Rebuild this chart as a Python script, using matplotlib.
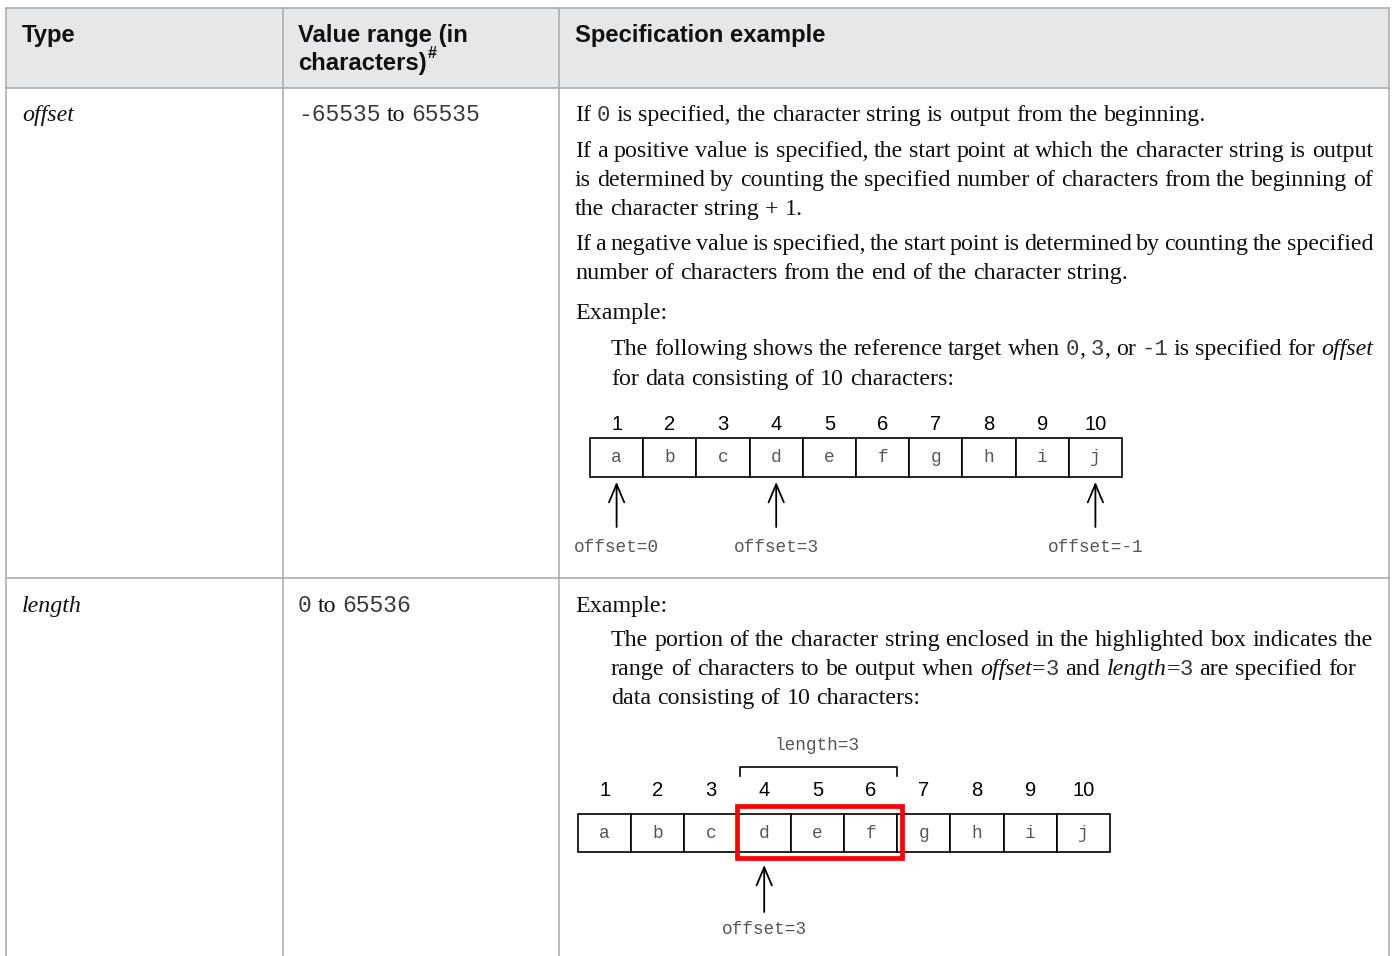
import matplotlib
matplotlib.use("Agg")
import matplotlib.pyplot as plt
from matplotlib.patches import Rectangle

# ── Data ────────────────────────────────────────────────────────────────────
COL_HEADERS = ["Type", "Value range (in\ncharacters)", "Specification example"]
TYPES = ["offset", "length"]
RANGES = [[("-65535", "m"), (" to ", "r"), ("65535", "m")],
          [("0", "m"), (" to ", "r"), ("65536", "m")]]

CELL_LETTERS = ["a", "b", "c", "d", "e", "f", "g", "h", "i", "j"]
CELL_NUMBERS = [1, 2, 3, 4, 5, 6, 7, 8, 9, 10]
OFFSET_EXAMPLES = [0, 3, -1]
HIGHLIGHT_OFFSET = 3
HIGHLIGHT_LENGTH = 3

# (baseline y, left x, justify-to x or None, runs)
OFFSET_TEXT = [
    (121, 575, None, [("If ", "r"), ("0", "m"), (" is specified, the character string is output from the beginning.", "r")]),
    (157, 575, 1373, [("If a positive value is specified, the start point at which the character string is output", "r")]),
    (186, 575, 1373, [("is determined by counting the specified number of characters from the beginning of", "r")]),
    (215, 575, None, [("the character string + 1.", "r")]),
    (250, 575, 1373, [("If a negative value is specified, the start point is determined by counting the specified", "r")]),
    (279, 575, None, [("number of characters from the end of the character string.", "r")]),
    (319, 575, None, [("Example:", "r")]),
    (355, 611, 1373, [("The following shows the reference target when ", "r"), ("0", "m"), (", ", "r"), ("3", "m"),
                      (", or ", "r"), ("-1", "m"), (" is specified for ", "r"), ("offset", "i")]),
    (385, 611, None, [("for data consisting of 10 characters:", "r")]),
]
LENGTH_TEXT = [
    (612, 575, None, [("Example:", "r")]),
    (646, 611, 1373, [("The portion of the character string enclosed in the highlighted box indicates the", "r")]),
    (675, 611, 1356, [("range of characters to be output when ", "r"), ("offset", "i"), ("=", "r"), ("3", "m"),
                      (" and ", "r"), ("length", "i"), ("=", "r"), ("3", "m"), (" are specified for", "r")]),
    (704, 611, None, [("data consisting of 10 characters:", "r")]),
]

# ── Styles ──────────────────────────────────────────────────────────────────
W, H = 1395, 956
FS = 17.3
FS_MONO = 16.0
STYLES = {
    "r": dict(family="Liberation Serif", color="#111111"),
    "i": dict(family="Liberation Serif", style="italic", color="#111111"),
    "m": dict(family="Liberation Mono", color="#3a3a3a"),
}
SIZES = {"r": FS, "i": FS, "m": FS_MONO}
HEAD = dict(family="Liberation Sans", weight="bold", size=17.2, color="#111111")
GRID = "#a8a8a8"
HEADER_BG = "#e6e7e8"
DIAG_MONO = dict(family="Liberation Mono", size=12.8, color="#555555")
DIAG_NUM = dict(family="Liberation Sans", size=14.5, color="black")

fig = plt.figure(figsize=(W / 100, H / 100), dpi=100)
ax = fig.add_axes([0, 0, 1, 1])
ax.set_xlim(0, W)
ax.set_ylim(H, 0)
ax.axis("off")
renderer = fig.canvas.get_renderer()


def width_of(t):
    return t.get_window_extent(renderer).width


def space_width(scale=1.0):
    a = ax.text(0, 0, "n n", size=FS * scale, **STYLES["r"])
    b = ax.text(0, 0, "nn", size=FS * scale, **STYLES["r"])
    w = width_of(a) - width_of(b)
    a.remove()
    b.remove()
    return w


def words_of(runs):
    words = [[]]
    for txt, kind in runs:
        parts = txt.split(" ")
        for k, p in enumerate(parts):
            if k > 0:
                words.append([])
            if p:
                words[-1].append((p, kind))
    return [w for w in words if w]


def draw_line(y, x0, right, runs, scale=1.0, mono_size=None):
    words = words_of(runs)
    space = space_width(scale)
    sizes = dict(SIZES)
    if mono_size:
        sizes["m"] = mono_size
    placed = []
    total = 0
    for w in words:
        items = []
        ww = 0
        for txt, kind in w:
            t = ax.text(0, y, txt, va="baseline", ha="left", size=sizes[kind] * scale, **STYLES[kind])
            items.append((t, ww))
            ww += width_of(t)
        placed.append((items, ww))
        total += ww
    gap = space
    if right is not None and len(words) > 1:
        gap = (right - x0 - total) / (len(words) - 1)
        if gap < 0.55 * space:
            # too long for the cell: shrink this line a little and retry
            for items, _ in placed:
                for t, _ in items:
                    t.remove()
            return draw_line(y, x0, right, runs, scale * 0.985, mono_size)
    x = x0
    for items, ww in placed:
        for t, off in items:
            t.set_x(x + off)
        x += ww + gap


# ── Table frame ─────────────────────────────────────────────────────────────
L, R_, T = 6, 1389, 8
HB = 88
ROW_SEP = 578
COLS = [283, 559]

ax.add_patch(Rectangle((L, T), R_ - L, HB - T, facecolor=HEADER_BG, edgecolor="none", zorder=0))
lw_grid = 1.1
ax.plot([L, R_], [T, T], color=GRID, lw=lw_grid)
ax.plot([L, R_], [HB, HB], color=GRID, lw=lw_grid)
ax.plot([L, R_], [ROW_SEP, ROW_SEP], color=GRID, lw=lw_grid)
for x in [L, R_] + COLS:
    ax.plot([x, x], [T, H], color=GRID, lw=lw_grid)

# header
ax.text(22, 42, COL_HEADERS[0], va="baseline", ha="left", **HEAD)
h1, h2 = COL_HEADERS[1].split("\n")
ax.text(298, 42, h1, va="baseline", ha="left", **HEAD)
t2 = ax.text(298, 70, h2, va="baseline", ha="left", **HEAD)
ax.text(298 + width_of(t2) + 1, 58, "#", va="baseline", ha="left",
        family="Liberation Sans", weight="bold", size=11.5, color="#111111")
ax.text(575, 42, COL_HEADERS[2], va="baseline", ha="left", **HEAD)

# first two columns
for ty, rng, yb in zip(TYPES, RANGES, [121, 612]):
    ax.text(22, yb, ty, va="baseline", ha="left", size=FS, **STYLES["i"])
    draw_line(yb, 298, None, rng, mono_size=16.6)

for y, x0, right, runs in OFFSET_TEXT + LENGTH_TEXT:
    draw_line(y, x0, right, runs)


# ── Diagrams ────────────────────────────────────────────────────────────────
CW = 53.2


def cells(left, top, h, num_y):
    for i, (ch, n) in enumerate(zip(CELL_LETTERS, CELL_NUMBERS)):
        x = left + i * CW
        ax.add_patch(Rectangle((x, top), CW, h, facecolor="white", edgecolor="black", lw=1.2, zorder=2))
        ax.text(x + CW / 2, top + h / 2, ch, ha="center", va="center", zorder=3, **DIAG_MONO)
        ax.text(x + CW / 2, num_y, str(n), ha="center", va="center", **DIAG_NUM)


def up_arrow(x, tip, tail, label, label_y):
    ax.annotate("", xy=(x, tip), xytext=(x, tail),
                arrowprops=dict(arrowstyle="->,head_length=1.3,head_width=0.55",
                                mutation_scale=10, lw=1.3, color="black",
                                shrinkA=0, shrinkB=0))
    ax.text(x, label_y, label, ha="center", va="center", **DIAG_MONO)


# diagram 1: offset examples
D1_LEFT, D1_TOP, D1_H = 590, 438, 39
cells(D1_LEFT, D1_TOP, D1_H, 424)
n = len(CELL_LETTERS)
for off in OFFSET_EXAMPLES:
    idx = off if off >= 0 else n + off
    xc = D1_LEFT + (idx + 0.5) * CW
    up_arrow(xc, D1_TOP + D1_H + 5, 527, f"offset={off}", 548)

# diagram 2: offset + length
D2_LEFT, D2_TOP, D2_H = 578, 814, 38
cells(D2_LEFT, D2_TOP, D2_H, 791)
x_start = D2_LEFT + HIGHLIGHT_OFFSET * CW
x_end = D2_LEFT + (HIGHLIGHT_OFFSET + HIGHLIGHT_LENGTH) * CW
ax.add_patch(Rectangle((x_start - 1, D2_TOP - 8), x_end - x_start + 6, D2_H + 14,
                       facecolor="none", edgecolor="#ff0000", lw=3.4, zorder=4))
# bracket over the highlighted range
ax.plot([x_start + 2, x_start + 2, x_end, x_end], [776, 767, 767, 776], color="black", lw=1.2)
ax.text((x_start + x_end) / 2, 746, f"length={HIGHLIGHT_LENGTH}", ha="center", va="center", **DIAG_MONO)
up_arrow(D2_LEFT + (HIGHLIGHT_OFFSET + 0.5) * CW, D2_TOP + D2_H + 13, 912,
         f"offset={HIGHLIGHT_OFFSET}", 930)

fig.savefig("out.png", dpi=100, facecolor="white")
